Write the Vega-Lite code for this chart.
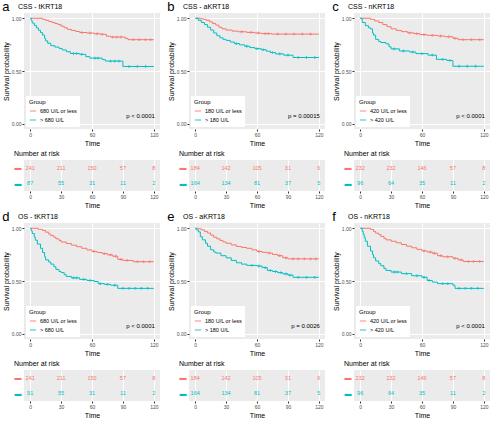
{
"$schema": "https://vega.github.io/schema/vega-lite/v6.json",
"padding": {"left": 2, "top": 1, "right": 2, "bottom": 0},
"background": "white",
"config": {
 "font": "Liberation Sans",
 "view": {"fill": "#EBEBEB", "stroke": null},
 "axis": {"gridColor": "white", "gridWidth": 1, "domain": false, "tickColor": "#333333", "tickSize": 2, "labelFontSize": 5, "labelColor": "#4D4D4D", "labelPadding": 1, "titleFontSize": 7, "titleFontWeight": "normal", "titleColor": "black", "titlePadding": 2},
 "title": {"anchor": "start", "frame": "bounds", "fontSize": 7, "fontWeight": "normal", "color": "black", "offset": 3},
 "legend": {"orient": "bottom-left", "offset": 2, "fillColor": "white", "padding": 3, "titleFontSize": 6, "titleFontWeight": "normal", "labelFontSize": 5.5, "symbolType": "stroke", "symbolSize": 40, "symbolStrokeWidth": 1.2, "rowPadding": 1, "titlePadding": 2, "labelOffset": 3}
},
"datasets": {
 "km": [
  {"p":"a","g":"lo","t":0,"s":1},{"p":"a","g":"lo","t":12,"s":0.99},{"p":"a","g":"lo","t":15,"s":0.98},{"p":"a","g":"lo","t":18,"s":0.97},{"p":"a","g":"lo","t":21,"s":0.96},{"p":"a","g":"lo","t":24,"s":0.95},{"p":"a","g":"lo","t":27,"s":0.94},{"p":"a","g":"lo","t":30,"s":0.925},{"p":"a","g":"lo","t":33,"s":0.91},{"p":"a","g":"lo","t":36,"s":0.895},{"p":"a","g":"lo","t":40,"s":0.885},{"p":"a","g":"lo","t":44,"s":0.875},{"p":"a","g":"lo","t":48,"s":0.865},{"p":"a","g":"lo","t":55,"s":0.86},{"p":"a","g":"lo","t":62,"s":0.853},{"p":"a","g":"lo","t":68,"s":0.848},{"p":"a","g":"lo","t":74,"s":0.83},{"p":"a","g":"lo","t":78,"s":0.822},{"p":"a","g":"lo","t":92,"s":0.81},{"p":"a","g":"lo","t":95,"s":0.797},{"p":"a","g":"lo","t":120,"s":0.797},
  {"p":"a","g":"lo","t":50,"s":0.865,"c":1},{"p":"a","g":"lo","t":58,"s":0.86,"c":1},{"p":"a","g":"lo","t":65,"s":0.853,"c":1},{"p":"a","g":"lo","t":70,"s":0.848,"c":1},{"p":"a","g":"lo","t":80,"s":0.822,"c":1},{"p":"a","g":"lo","t":84,"s":0.822,"c":1},{"p":"a","g":"lo","t":88,"s":0.822,"c":1},{"p":"a","g":"lo","t":100,"s":0.797,"c":1},{"p":"a","g":"lo","t":106,"s":0.797,"c":1},{"p":"a","g":"lo","t":112,"s":0.797,"c":1},{"p":"a","g":"lo","t":117,"s":0.797,"c":1},
  {"p":"a","g":"hi","t":0,"s":1},{"p":"a","g":"hi","t":1,"s":0.977},{"p":"a","g":"hi","t":2,"s":0.955},{"p":"a","g":"hi","t":4,"s":0.932},{"p":"a","g":"hi","t":6,"s":0.909},{"p":"a","g":"hi","t":8,"s":0.886},{"p":"a","g":"hi","t":10,"s":0.864},{"p":"a","g":"hi","t":12,"s":0.841},{"p":"a","g":"hi","t":14,"s":0.81},{"p":"a","g":"hi","t":15,"s":0.786},{"p":"a","g":"hi","t":17,"s":0.763},{"p":"a","g":"hi","t":20,"s":0.74},{"p":"a","g":"hi","t":24,"s":0.727},{"p":"a","g":"hi","t":28,"s":0.714},{"p":"a","g":"hi","t":31,"s":0.7},{"p":"a","g":"hi","t":35,"s":0.683},{"p":"a","g":"hi","t":39,"s":0.666},{"p":"a","g":"hi","t":48,"s":0.658},{"p":"a","g":"hi","t":54,"s":0.636},{"p":"a","g":"hi","t":58,"s":0.622},{"p":"a","g":"hi","t":70,"s":0.608},{"p":"a","g":"hi","t":73,"s":0.594},{"p":"a","g":"hi","t":90,"s":0.543},{"p":"a","g":"hi","t":120,"s":0.543},
  {"p":"a","g":"hi","t":42,"s":0.666,"c":1},{"p":"a","g":"hi","t":45,"s":0.666,"c":1},{"p":"a","g":"hi","t":50,"s":0.658,"c":1},{"p":"a","g":"hi","t":63,"s":0.622,"c":1},{"p":"a","g":"hi","t":66,"s":0.622,"c":1},{"p":"a","g":"hi","t":78,"s":0.594,"c":1},{"p":"a","g":"hi","t":82,"s":0.594,"c":1},{"p":"a","g":"hi","t":86,"s":0.594,"c":1},{"p":"a","g":"hi","t":96,"s":0.543,"c":1},{"p":"a","g":"hi","t":104,"s":0.543,"c":1},{"p":"a","g":"hi","t":112,"s":0.543,"c":1},
  {"p":"b","g":"lo","t":0,"s":1},{"p":"b","g":"lo","t":5,"s":0.995},{"p":"b","g":"lo","t":8,"s":0.99},{"p":"b","g":"lo","t":11,"s":0.98},{"p":"b","g":"lo","t":14,"s":0.965},{"p":"b","g":"lo","t":17,"s":0.95},{"p":"b","g":"lo","t":20,"s":0.935},{"p":"b","g":"lo","t":23,"s":0.915},{"p":"b","g":"lo","t":26,"s":0.9},{"p":"b","g":"lo","t":30,"s":0.888},{"p":"b","g":"lo","t":36,"s":0.878},{"p":"b","g":"lo","t":42,"s":0.872},{"p":"b","g":"lo","t":50,"s":0.866},{"p":"b","g":"lo","t":58,"s":0.86},{"p":"b","g":"lo","t":64,"s":0.855},{"p":"b","g":"lo","t":74,"s":0.85},{"p":"b","g":"lo","t":120,"s":0.85},
  {"p":"b","g":"lo","t":45,"s":0.872,"c":1},{"p":"b","g":"lo","t":54,"s":0.866,"c":1},{"p":"b","g":"lo","t":61,"s":0.86,"c":1},{"p":"b","g":"lo","t":68,"s":0.855,"c":1},{"p":"b","g":"lo","t":71,"s":0.855,"c":1},{"p":"b","g":"lo","t":80,"s":0.85,"c":1},{"p":"b","g":"lo","t":88,"s":0.85,"c":1},{"p":"b","g":"lo","t":96,"s":0.85,"c":1},{"p":"b","g":"lo","t":104,"s":0.85,"c":1},{"p":"b","g":"lo","t":112,"s":0.85,"c":1},
  {"p":"b","g":"hi","t":0,"s":1},{"p":"b","g":"hi","t":3,"s":0.98},{"p":"b","g":"hi","t":6,"s":0.96},{"p":"b","g":"hi","t":9,"s":0.94},{"p":"b","g":"hi","t":12,"s":0.915},{"p":"b","g":"hi","t":15,"s":0.888},{"p":"b","g":"hi","t":18,"s":0.86},{"p":"b","g":"hi","t":21,"s":0.835},{"p":"b","g":"hi","t":24,"s":0.815},{"p":"b","g":"hi","t":27,"s":0.8},{"p":"b","g":"hi","t":30,"s":0.79},{"p":"b","g":"hi","t":34,"s":0.775},{"p":"b","g":"hi","t":38,"s":0.76},{"p":"b","g":"hi","t":43,"s":0.748},{"p":"b","g":"hi","t":48,"s":0.735},{"p":"b","g":"hi","t":53,"s":0.722},{"p":"b","g":"hi","t":58,"s":0.712},{"p":"b","g":"hi","t":64,"s":0.702},{"p":"b","g":"hi","t":69,"s":0.688},{"p":"b","g":"hi","t":73,"s":0.675},{"p":"b","g":"hi","t":78,"s":0.662},{"p":"b","g":"hi","t":86,"s":0.65},{"p":"b","g":"hi","t":95,"s":0.628},{"p":"b","g":"hi","t":120,"s":0.628},
  {"p":"b","g":"hi","t":40,"s":0.76,"c":1},{"p":"b","g":"hi","t":50,"s":0.735,"c":1},{"p":"b","g":"hi","t":60,"s":0.712,"c":1},{"p":"b","g":"hi","t":66,"s":0.702,"c":1},{"p":"b","g":"hi","t":75,"s":0.675,"c":1},{"p":"b","g":"hi","t":82,"s":0.662,"c":1},{"p":"b","g":"hi","t":90,"s":0.65,"c":1},{"p":"b","g":"hi","t":100,"s":0.628,"c":1},{"p":"b","g":"hi","t":108,"s":0.628,"c":1},{"p":"b","g":"hi","t":116,"s":0.628,"c":1},
  {"p":"c","g":"lo","t":0,"s":1},{"p":"c","g":"lo","t":10,"s":0.99},{"p":"c","g":"lo","t":14,"s":0.975},{"p":"c","g":"lo","t":18,"s":0.96},{"p":"c","g":"lo","t":22,"s":0.94},{"p":"c","g":"lo","t":26,"s":0.92},{"p":"c","g":"lo","t":30,"s":0.9},{"p":"c","g":"lo","t":35,"s":0.885},{"p":"c","g":"lo","t":40,"s":0.873},{"p":"c","g":"lo","t":46,"s":0.862},{"p":"c","g":"lo","t":52,"s":0.855},{"p":"c","g":"lo","t":58,"s":0.845},{"p":"c","g":"lo","t":65,"s":0.838},{"p":"c","g":"lo","t":75,"s":0.832},{"p":"c","g":"lo","t":82,"s":0.825},{"p":"c","g":"lo","t":90,"s":0.81},{"p":"c","g":"lo","t":95,"s":0.797},{"p":"c","g":"lo","t":120,"s":0.797},
  {"p":"c","g":"lo","t":48,"s":0.862,"c":1},{"p":"c","g":"lo","t":55,"s":0.855,"c":1},{"p":"c","g":"lo","t":62,"s":0.845,"c":1},{"p":"c","g":"lo","t":70,"s":0.838,"c":1},{"p":"c","g":"lo","t":78,"s":0.832,"c":1},{"p":"c","g":"lo","t":86,"s":0.825,"c":1},{"p":"c","g":"lo","t":92,"s":0.81,"c":1},{"p":"c","g":"lo","t":100,"s":0.797,"c":1},{"p":"c","g":"lo","t":108,"s":0.797,"c":1},{"p":"c","g":"lo","t":116,"s":0.797,"c":1},
  {"p":"c","g":"hi","t":0,"s":1},{"p":"c","g":"hi","t":2,"s":0.96},{"p":"c","g":"hi","t":5,"s":0.93},{"p":"c","g":"hi","t":8,"s":0.91},{"p":"c","g":"hi","t":10,"s":0.9},{"p":"c","g":"hi","t":12,"s":0.86},{"p":"c","g":"hi","t":13,"s":0.84},{"p":"c","g":"hi","t":15,"s":0.8},{"p":"c","g":"hi","t":18,"s":0.78},{"p":"c","g":"hi","t":20,"s":0.77},{"p":"c","g":"hi","t":25,"s":0.757},{"p":"c","g":"hi","t":28,"s":0.73},{"p":"c","g":"hi","t":30,"s":0.71},{"p":"c","g":"hi","t":38,"s":0.69},{"p":"c","g":"hi","t":48,"s":0.68},{"p":"c","g":"hi","t":54,"s":0.665},{"p":"c","g":"hi","t":66,"s":0.65},{"p":"c","g":"hi","t":74,"s":0.61},{"p":"c","g":"hi","t":84,"s":0.6},{"p":"c","g":"hi","t":90,"s":0.545},{"p":"c","g":"hi","t":120,"s":0.545},
  {"p":"c","g":"hi","t":33,"s":0.71,"c":1},{"p":"c","g":"hi","t":42,"s":0.69,"c":1},{"p":"c","g":"hi","t":51,"s":0.68,"c":1},{"p":"c","g":"hi","t":60,"s":0.665,"c":1},{"p":"c","g":"hi","t":70,"s":0.65,"c":1},{"p":"c","g":"hi","t":80,"s":0.61,"c":1},{"p":"c","g":"hi","t":87,"s":0.6,"c":1},{"p":"c","g":"hi","t":96,"s":0.545,"c":1},{"p":"c","g":"hi","t":104,"s":0.545,"c":1},{"p":"c","g":"hi","t":112,"s":0.545,"c":1},
  {"p":"d","g":"lo","t":0,"s":1},{"p":"d","g":"lo","t":8,"s":0.99},{"p":"d","g":"lo","t":12,"s":0.98},{"p":"d","g":"lo","t":15,"s":0.963},{"p":"d","g":"lo","t":18,"s":0.945},{"p":"d","g":"lo","t":20,"s":0.93},{"p":"d","g":"lo","t":23,"s":0.915},{"p":"d","g":"lo","t":25,"s":0.9},{"p":"d","g":"lo","t":28,"s":0.885},{"p":"d","g":"lo","t":30,"s":0.87},{"p":"d","g":"lo","t":35,"s":0.855},{"p":"d","g":"lo","t":40,"s":0.84},{"p":"d","g":"lo","t":45,"s":0.825},{"p":"d","g":"lo","t":50,"s":0.81},{"p":"d","g":"lo","t":55,"s":0.795},{"p":"d","g":"lo","t":60,"s":0.78},{"p":"d","g":"lo","t":65,"s":0.77},{"p":"d","g":"lo","t":70,"s":0.76},{"p":"d","g":"lo","t":75,"s":0.748},{"p":"d","g":"lo","t":80,"s":0.735},{"p":"d","g":"lo","t":85,"s":0.705},{"p":"d","g":"lo","t":90,"s":0.695},{"p":"d","g":"lo","t":100,"s":0.683},{"p":"d","g":"lo","t":120,"s":0.683},
  {"p":"d","g":"lo","t":62,"s":0.78,"c":1},{"p":"d","g":"lo","t":72,"s":0.76,"c":1},{"p":"d","g":"lo","t":78,"s":0.748,"c":1},{"p":"d","g":"lo","t":83,"s":0.735,"c":1},{"p":"d","g":"lo","t":88,"s":0.705,"c":1},{"p":"d","g":"lo","t":94,"s":0.695,"c":1},{"p":"d","g":"lo","t":104,"s":0.683,"c":1},{"p":"d","g":"lo","t":110,"s":0.683,"c":1},{"p":"d","g":"lo","t":116,"s":0.683,"c":1},
  {"p":"d","g":"hi","t":0,"s":1},{"p":"d","g":"hi","t":1,"s":0.975},{"p":"d","g":"hi","t":2,"s":0.95},{"p":"d","g":"hi","t":4,"s":0.915},{"p":"d","g":"hi","t":5,"s":0.887},{"p":"d","g":"hi","t":7,"s":0.85},{"p":"d","g":"hi","t":10,"s":0.81},{"p":"d","g":"hi","t":12,"s":0.77},{"p":"d","g":"hi","t":14,"s":0.73},{"p":"d","g":"hi","t":15,"s":0.7},{"p":"d","g":"hi","t":18,"s":0.68},{"p":"d","g":"hi","t":20,"s":0.66},{"p":"d","g":"hi","t":23,"s":0.635},{"p":"d","g":"hi","t":25,"s":0.61},{"p":"d","g":"hi","t":28,"s":0.59},{"p":"d","g":"hi","t":30,"s":0.58},{"p":"d","g":"hi","t":33,"s":0.56},{"p":"d","g":"hi","t":35,"s":0.543},{"p":"d","g":"hi","t":40,"s":0.53},{"p":"d","g":"hi","t":48,"s":0.515},{"p":"d","g":"hi","t":55,"s":0.505},{"p":"d","g":"hi","t":62,"s":0.495},{"p":"d","g":"hi","t":66,"s":0.475},{"p":"d","g":"hi","t":72,"s":0.468},{"p":"d","g":"hi","t":78,"s":0.46},{"p":"d","g":"hi","t":85,"s":0.43},{"p":"d","g":"hi","t":120,"s":0.43},
  {"p":"d","g":"hi","t":42,"s":0.53,"c":1},{"p":"d","g":"hi","t":45,"s":0.53,"c":1},{"p":"d","g":"hi","t":52,"s":0.515,"c":1},{"p":"d","g":"hi","t":58,"s":0.505,"c":1},{"p":"d","g":"hi","t":68,"s":0.475,"c":1},{"p":"d","g":"hi","t":75,"s":0.468,"c":1},{"p":"d","g":"hi","t":82,"s":0.46,"c":1},{"p":"d","g":"hi","t":90,"s":0.43,"c":1},{"p":"d","g":"hi","t":96,"s":0.43,"c":1},{"p":"d","g":"hi","t":102,"s":0.43,"c":1},{"p":"d","g":"hi","t":108,"s":0.43,"c":1},{"p":"d","g":"hi","t":114,"s":0.43,"c":1},
  {"p":"e","g":"lo","t":0,"s":1},{"p":"e","g":"lo","t":3,"s":0.995},{"p":"e","g":"lo","t":6,"s":0.985},{"p":"e","g":"lo","t":9,"s":0.97},{"p":"e","g":"lo","t":12,"s":0.955},{"p":"e","g":"lo","t":15,"s":0.935},{"p":"e","g":"lo","t":18,"s":0.915},{"p":"e","g":"lo","t":21,"s":0.9},{"p":"e","g":"lo","t":24,"s":0.885},{"p":"e","g":"lo","t":27,"s":0.87},{"p":"e","g":"lo","t":30,"s":0.858},{"p":"e","g":"lo","t":35,"s":0.842},{"p":"e","g":"lo","t":40,"s":0.827},{"p":"e","g":"lo","t":45,"s":0.818},{"p":"e","g":"lo","t":50,"s":0.81},{"p":"e","g":"lo","t":55,"s":0.795},{"p":"e","g":"lo","t":60,"s":0.78},{"p":"e","g":"lo","t":65,"s":0.772},{"p":"e","g":"lo","t":70,"s":0.765},{"p":"e","g":"lo","t":75,"s":0.752},{"p":"e","g":"lo","t":80,"s":0.74},{"p":"e","g":"lo","t":85,"s":0.72},{"p":"e","g":"lo","t":90,"s":0.71},{"p":"e","g":"lo","t":120,"s":0.71},
  {"p":"e","g":"lo","t":62,"s":0.78,"c":1},{"p":"e","g":"lo","t":72,"s":0.765,"c":1},{"p":"e","g":"lo","t":82,"s":0.74,"c":1},{"p":"e","g":"lo","t":88,"s":0.72,"c":1},{"p":"e","g":"lo","t":95,"s":0.71,"c":1},{"p":"e","g":"lo","t":100,"s":0.71,"c":1},{"p":"e","g":"lo","t":106,"s":0.71,"c":1},{"p":"e","g":"lo","t":112,"s":0.71,"c":1},{"p":"e","g":"lo","t":117,"s":0.71,"c":1},
  {"p":"e","g":"hi","t":0,"s":1},{"p":"e","g":"hi","t":1,"s":0.985},{"p":"e","g":"hi","t":3,"s":0.966},{"p":"e","g":"hi","t":5,"s":0.92},{"p":"e","g":"hi","t":7,"s":0.89},{"p":"e","g":"hi","t":10,"s":0.858},{"p":"e","g":"hi","t":12,"s":0.83},{"p":"e","g":"hi","t":15,"s":0.796},{"p":"e","g":"hi","t":18,"s":0.775},{"p":"e","g":"hi","t":20,"s":0.765},{"p":"e","g":"hi","t":25,"s":0.74},{"p":"e","g":"hi","t":30,"s":0.72},{"p":"e","g":"hi","t":35,"s":0.695},{"p":"e","g":"hi","t":40,"s":0.673},{"p":"e","g":"hi","t":45,"s":0.66},{"p":"e","g":"hi","t":50,"s":0.648},{"p":"e","g":"hi","t":60,"s":0.642},{"p":"e","g":"hi","t":65,"s":0.627},{"p":"e","g":"hi","t":70,"s":0.6},{"p":"e","g":"hi","t":75,"s":0.59},{"p":"e","g":"hi","t":80,"s":0.58},{"p":"e","g":"hi","t":85,"s":0.568},{"p":"e","g":"hi","t":90,"s":0.556},{"p":"e","g":"hi","t":95,"s":0.535},{"p":"e","g":"hi","t":120,"s":0.535},
  {"p":"e","g":"hi","t":55,"s":0.648,"c":1},{"p":"e","g":"hi","t":62,"s":0.642,"c":1},{"p":"e","g":"hi","t":68,"s":0.627,"c":1},{"p":"e","g":"hi","t":73,"s":0.6,"c":1},{"p":"e","g":"hi","t":78,"s":0.59,"c":1},{"p":"e","g":"hi","t":83,"s":0.58,"c":1},{"p":"e","g":"hi","t":88,"s":0.568,"c":1},{"p":"e","g":"hi","t":92,"s":0.556,"c":1},{"p":"e","g":"hi","t":100,"s":0.535,"c":1},{"p":"e","g":"hi","t":108,"s":0.535,"c":1},{"p":"e","g":"hi","t":116,"s":0.535,"c":1},
  {"p":"f","g":"lo","t":0,"s":1},{"p":"f","g":"lo","t":10,"s":0.99},{"p":"f","g":"lo","t":13,"s":0.97},{"p":"f","g":"lo","t":15,"s":0.954},{"p":"f","g":"lo","t":18,"s":0.94},{"p":"f","g":"lo","t":20,"s":0.923},{"p":"f","g":"lo","t":23,"s":0.905},{"p":"f","g":"lo","t":25,"s":0.89},{"p":"f","g":"lo","t":30,"s":0.877},{"p":"f","g":"lo","t":35,"s":0.862},{"p":"f","g":"lo","t":40,"s":0.846},{"p":"f","g":"lo","t":45,"s":0.83},{"p":"f","g":"lo","t":50,"s":0.815},{"p":"f","g":"lo","t":55,"s":0.8},{"p":"f","g":"lo","t":60,"s":0.785},{"p":"f","g":"lo","t":65,"s":0.775},{"p":"f","g":"lo","t":70,"s":0.763},{"p":"f","g":"lo","t":75,"s":0.74},{"p":"f","g":"lo","t":80,"s":0.73},{"p":"f","g":"lo","t":90,"s":0.715},{"p":"f","g":"lo","t":95,"s":0.7},{"p":"f","g":"lo","t":100,"s":0.685},{"p":"f","g":"lo","t":120,"s":0.685},
  {"p":"f","g":"lo","t":62,"s":0.785,"c":1},{"p":"f","g":"lo","t":68,"s":0.775,"c":1},{"p":"f","g":"lo","t":72,"s":0.763,"c":1},{"p":"f","g":"lo","t":78,"s":0.74,"c":1},{"p":"f","g":"lo","t":85,"s":0.73,"c":1},{"p":"f","g":"lo","t":92,"s":0.715,"c":1},{"p":"f","g":"lo","t":98,"s":0.7,"c":1},{"p":"f","g":"lo","t":105,"s":0.685,"c":1},{"p":"f","g":"lo","t":110,"s":0.685,"c":1},{"p":"f","g":"lo","t":116,"s":0.685,"c":1},
  {"p":"f","g":"hi","t":0,"s":1},{"p":"f","g":"hi","t":2,"s":0.97},{"p":"f","g":"hi","t":3,"s":0.94},{"p":"f","g":"hi","t":4,"s":0.91},{"p":"f","g":"hi","t":5,"s":0.877},{"p":"f","g":"hi","t":7,"s":0.83},{"p":"f","g":"hi","t":10,"s":0.785},{"p":"f","g":"hi","t":12,"s":0.75},{"p":"f","g":"hi","t":13,"s":0.72},{"p":"f","g":"hi","t":15,"s":0.69},{"p":"f","g":"hi","t":18,"s":0.665},{"p":"f","g":"hi","t":20,"s":0.645},{"p":"f","g":"hi","t":23,"s":0.62},{"p":"f","g":"hi","t":25,"s":0.6},{"p":"f","g":"hi","t":30,"s":0.585},{"p":"f","g":"hi","t":40,"s":0.57},{"p":"f","g":"hi","t":50,"s":0.55},{"p":"f","g":"hi","t":60,"s":0.535},{"p":"f","g":"hi","t":65,"s":0.505},{"p":"f","g":"hi","t":70,"s":0.49},{"p":"f","g":"hi","t":75,"s":0.475},{"p":"f","g":"hi","t":90,"s":0.46},{"p":"f","g":"hi","t":92,"s":0.43},{"p":"f","g":"hi","t":120,"s":0.43},
  {"p":"f","g":"hi","t":33,"s":0.585,"c":1},{"p":"f","g":"hi","t":36,"s":0.585,"c":1},{"p":"f","g":"hi","t":45,"s":0.57,"c":1},{"p":"f","g":"hi","t":55,"s":0.55,"c":1},{"p":"f","g":"hi","t":62,"s":0.535,"c":1},{"p":"f","g":"hi","t":67,"s":0.505,"c":1},{"p":"f","g":"hi","t":80,"s":0.475,"c":1},{"p":"f","g":"hi","t":85,"s":0.475,"c":1},{"p":"f","g":"hi","t":96,"s":0.43,"c":1},{"p":"f","g":"hi","t":102,"s":0.43,"c":1},{"p":"f","g":"hi","t":108,"s":0.43,"c":1},{"p":"f","g":"hi","t":114,"s":0.43,"c":1}
 ],
 "risk": [
  {"p":"a","g":"lo","t":0,"n":241},{"p":"a","g":"lo","t":30,"n":211},{"p":"a","g":"lo","t":60,"n":150},{"p":"a","g":"lo","t":90,"n":57},{"p":"a","g":"lo","t":120,"n":8},
  {"p":"a","g":"hi","t":0,"n":87},{"p":"a","g":"hi","t":30,"n":55},{"p":"a","g":"hi","t":60,"n":31},{"p":"a","g":"hi","t":90,"n":11},{"p":"a","g":"hi","t":120,"n":2},
  {"p":"b","g":"lo","t":0,"n":184},{"p":"b","g":"lo","t":30,"n":142},{"p":"b","g":"lo","t":60,"n":105},{"p":"b","g":"lo","t":90,"n":31},{"p":"b","g":"lo","t":120,"n":6},
  {"p":"b","g":"hi","t":0,"n":164},{"p":"b","g":"hi","t":30,"n":134},{"p":"b","g":"hi","t":60,"n":81},{"p":"b","g":"hi","t":90,"n":37},{"p":"b","g":"hi","t":120,"n":5},
  {"p":"c","g":"lo","t":0,"n":232},{"p":"c","g":"lo","t":30,"n":232},{"p":"c","g":"lo","t":60,"n":146},{"p":"c","g":"lo","t":90,"n":57},{"p":"c","g":"lo","t":120,"n":8},
  {"p":"c","g":"hi","t":0,"n":96},{"p":"c","g":"hi","t":30,"n":64},{"p":"c","g":"hi","t":60,"n":35},{"p":"c","g":"hi","t":90,"n":11},{"p":"c","g":"hi","t":120,"n":2},
  {"p":"d","g":"lo","t":0,"n":241},{"p":"d","g":"lo","t":30,"n":211},{"p":"d","g":"lo","t":60,"n":150},{"p":"d","g":"lo","t":90,"n":57},{"p":"d","g":"lo","t":120,"n":8},
  {"p":"d","g":"hi","t":0,"n":91},{"p":"d","g":"hi","t":30,"n":55},{"p":"d","g":"hi","t":60,"n":31},{"p":"d","g":"hi","t":90,"n":11},{"p":"d","g":"hi","t":120,"n":2},
  {"p":"e","g":"lo","t":0,"n":184},{"p":"e","g":"lo","t":30,"n":142},{"p":"e","g":"lo","t":60,"n":105},{"p":"e","g":"lo","t":90,"n":31},{"p":"e","g":"lo","t":120,"n":6},
  {"p":"e","g":"hi","t":0,"n":164},{"p":"e","g":"hi","t":30,"n":134},{"p":"e","g":"hi","t":60,"n":81},{"p":"e","g":"hi","t":90,"n":37},{"p":"e","g":"hi","t":120,"n":5},
  {"p":"f","g":"lo","t":0,"n":232},{"p":"f","g":"lo","t":30,"n":232},{"p":"f","g":"lo","t":60,"n":146},{"p":"f","g":"lo","t":90,"n":57},{"p":"f","g":"lo","t":120,"n":8},
  {"p":"f","g":"hi","t":0,"n":96},{"p":"f","g":"hi","t":30,"n":64},{"p":"f","g":"hi","t":60,"n":35},{"p":"f","g":"hi","t":90,"n":11},{"p":"f","g":"hi","t":120,"n":2}
 ],
 "pv": [
  {"p":"a","txt":"p < 0.0001"},{"p":"b","txt":"p = 0.00015"},{"p":"c","txt":"p < 0.0001"},
  {"p":"d","txt":"p < 0.0001"},{"p":"e","txt":"p = 0.0026"},{"p":"f","txt":"p < 0.0001"}
 ]
},
"spacing": 3,
"resolve": {"scale": {"color": "independent"}, "legend": {"color": "independent"}},
"vconcat": [
 {"hconcat": [
  {"title": {"text": "a", "fontSize": 13, "offset": -11}, "spacing": 4,
   "resolve": {"scale": {"color": "independent"}, "legend": {"color": "independent"}},
   "vconcat": [
    {"width": 136, "height": 116, "title": {"text": "CSS - tKRT18", "frame": "group", "dx": -6},
     "layer": [
     {"data": {"name": "km"}, "transform": [{"filter": "datum.p == 'a'"}],
      "mark": {"type": "line", "interpolate": "step-after", "strokeWidth": 1},
      "encoding": {
       "x": {"field": "t", "type": "quantitative", "scale": {"domain": [-6, 126], "nice": false, "zero": false}, "axis": {"values": [0,30,60,90,120], "title": "Time"}},
       "y": {"field": "s", "type": "quantitative", "scale": {"domain": [-0.05, 1.05], "nice": false, "zero": false}, "axis": {"values": [0,0.25,0.5,0.75,1], "format": ".2f", "title": "Survival probability"}},
       "color": {"field": "g", "type": "nominal", "scale": {"domain": ["lo","hi"], "range": ["#F8766D","#00BFC4"]}, "legend": {"title": "Group", "labelExpr": "datum.value == 'lo' ? '680 U/L or less' : '> 680 U/L'"}}}},
     {"data": {"name": "km"}, "transform": [{"filter": "datum.p == 'a' && datum.c == 1"}],
      "mark": {"type": "point", "shape": "cross", "filled": true, "size": 8},
      "encoding": {"x": {"field": "t", "type": "quantitative"}, "y": {"field": "s", "type": "quantitative"}, "color": {"field": "g", "type": "nominal"}}},
     {"data": {"name": "pv"}, "transform": [{"filter": "datum.p == 'a'"}],
      "mark": {"type": "text", "align": "right", "fontSize": 6},
      "encoding": {"x": {"datum": 121}, "y": {"datum": 0.07}, "text": {"field": "txt"}}}
    ]},
    {"width": 136, "height": 31, "title": {"text": "Number at risk"},
     "data": {"name": "risk"}, "transform": [{"filter": "datum.p == 'a'"}],
     "mark": {"type": "text", "fontSize": 5.5},
     "encoding": {
      "x": {"field": "t", "type": "quantitative", "scale": {"domain": [-6, 126], "nice": false, "zero": false}, "axis": {"values": [0,30,60,90,120], "title": "Time"}},
      "y": {"field": "g", "type": "nominal", "scale": {"domain": ["lo","hi"]}, "axis": {"title": null, "labelExpr": "'▬'", "ticks": false, "labelFontSize": 7, "labelPadding": 3, "labelColor": {"condition": {"test": "datum.value == 'lo'", "value": "#F8766D"}, "value": "#00BFC4"}}},
      "color": {"field": "g", "type": "nominal", "scale": {"domain": ["lo","hi"], "range": ["#F8766D","#00BFC4"]}, "legend": null},
      "text": {"field": "n", "type": "quantitative"}}}
   ]},
  {"title": {"text": "b", "fontSize": 13, "offset": -11}, "spacing": 4,
   "resolve": {"scale": {"color": "independent"}, "legend": {"color": "independent"}},
   "vconcat": [
    {"width": 136, "height": 116, "title": {"text": "CSS - aKRT18", "frame": "group", "dx": -6},
     "layer": [
     {"data": {"name": "km"}, "transform": [{"filter": "datum.p == 'b'"}],
      "mark": {"type": "line", "interpolate": "step-after", "strokeWidth": 1},
      "encoding": {
       "x": {"field": "t", "type": "quantitative", "scale": {"domain": [-6, 126], "nice": false, "zero": false}, "axis": {"values": [0,30,60,90,120], "title": "Time"}},
       "y": {"field": "s", "type": "quantitative", "scale": {"domain": [-0.05, 1.05], "nice": false, "zero": false}, "axis": {"values": [0,0.25,0.5,0.75,1], "format": ".2f", "title": "Survival probability"}},
       "color": {"field": "g", "type": "nominal", "scale": {"domain": ["lo","hi"], "range": ["#F8766D","#00BFC4"]}, "legend": {"title": "Group", "labelExpr": "datum.value == 'lo' ? '180 U/L or less' : '> 180 U/L'"}}}},
     {"data": {"name": "km"}, "transform": [{"filter": "datum.p == 'b' && datum.c == 1"}],
      "mark": {"type": "point", "shape": "cross", "filled": true, "size": 8},
      "encoding": {"x": {"field": "t", "type": "quantitative"}, "y": {"field": "s", "type": "quantitative"}, "color": {"field": "g", "type": "nominal"}}},
     {"data": {"name": "pv"}, "transform": [{"filter": "datum.p == 'b'"}],
      "mark": {"type": "text", "align": "right", "fontSize": 6},
      "encoding": {"x": {"datum": 121}, "y": {"datum": 0.07}, "text": {"field": "txt"}}}
    ]},
    {"width": 136, "height": 31, "title": {"text": "Number at risk"},
     "data": {"name": "risk"}, "transform": [{"filter": "datum.p == 'b'"}],
     "mark": {"type": "text", "fontSize": 5.5},
     "encoding": {
      "x": {"field": "t", "type": "quantitative", "scale": {"domain": [-6, 126], "nice": false, "zero": false}, "axis": {"values": [0,30,60,90,120], "title": "Time"}},
      "y": {"field": "g", "type": "nominal", "scale": {"domain": ["lo","hi"]}, "axis": {"title": null, "labelExpr": "'▬'", "ticks": false, "labelFontSize": 7, "labelPadding": 3, "labelColor": {"condition": {"test": "datum.value == 'lo'", "value": "#F8766D"}, "value": "#00BFC4"}}},
      "color": {"field": "g", "type": "nominal", "scale": {"domain": ["lo","hi"], "range": ["#F8766D","#00BFC4"]}, "legend": null},
      "text": {"field": "n", "type": "quantitative"}}}
   ]},
  {"title": {"text": "c", "fontSize": 13, "offset": -11}, "spacing": 4,
   "resolve": {"scale": {"color": "independent"}, "legend": {"color": "independent"}},
   "vconcat": [
    {"width": 136, "height": 116, "title": {"text": "CSS - nKRT18", "frame": "group", "dx": -6},
     "layer": [
     {"data": {"name": "km"}, "transform": [{"filter": "datum.p == 'c'"}],
      "mark": {"type": "line", "interpolate": "step-after", "strokeWidth": 1},
      "encoding": {
       "x": {"field": "t", "type": "quantitative", "scale": {"domain": [-6, 126], "nice": false, "zero": false}, "axis": {"values": [0,30,60,90,120], "title": "Time"}},
       "y": {"field": "s", "type": "quantitative", "scale": {"domain": [-0.05, 1.05], "nice": false, "zero": false}, "axis": {"values": [0,0.25,0.5,0.75,1], "format": ".2f", "title": "Survival probability"}},
       "color": {"field": "g", "type": "nominal", "scale": {"domain": ["lo","hi"], "range": ["#F8766D","#00BFC4"]}, "legend": {"title": "Group", "labelExpr": "datum.value == 'lo' ? '420 U/L or less' : '> 420 U/L'"}}}},
     {"data": {"name": "km"}, "transform": [{"filter": "datum.p == 'c' && datum.c == 1"}],
      "mark": {"type": "point", "shape": "cross", "filled": true, "size": 8},
      "encoding": {"x": {"field": "t", "type": "quantitative"}, "y": {"field": "s", "type": "quantitative"}, "color": {"field": "g", "type": "nominal"}}},
     {"data": {"name": "pv"}, "transform": [{"filter": "datum.p == 'c'"}],
      "mark": {"type": "text", "align": "right", "fontSize": 6},
      "encoding": {"x": {"datum": 121}, "y": {"datum": 0.07}, "text": {"field": "txt"}}}
    ]},
    {"width": 136, "height": 31, "title": {"text": "Number at risk"},
     "data": {"name": "risk"}, "transform": [{"filter": "datum.p == 'c'"}],
     "mark": {"type": "text", "fontSize": 5.5},
     "encoding": {
      "x": {"field": "t", "type": "quantitative", "scale": {"domain": [-6, 126], "nice": false, "zero": false}, "axis": {"values": [0,30,60,90,120], "title": "Time"}},
      "y": {"field": "g", "type": "nominal", "scale": {"domain": ["lo","hi"]}, "axis": {"title": null, "labelExpr": "'▬'", "ticks": false, "labelFontSize": 7, "labelPadding": 3, "labelColor": {"condition": {"test": "datum.value == 'lo'", "value": "#F8766D"}, "value": "#00BFC4"}}},
      "color": {"field": "g", "type": "nominal", "scale": {"domain": ["lo","hi"], "range": ["#F8766D","#00BFC4"]}, "legend": null},
      "text": {"field": "n", "type": "quantitative"}}}
   ]}
 ], "spacing": 7, "resolve": {"scale": {"color": "independent"}, "legend": {"color": "independent"}}},
 {"hconcat": [
  {"title": {"text": "d", "fontSize": 13, "offset": -11}, "spacing": 4,
   "resolve": {"scale": {"color": "independent"}, "legend": {"color": "independent"}},
   "vconcat": [
    {"width": 136, "height": 116, "title": {"text": "OS - tKRT18", "frame": "group", "dx": -6},
     "layer": [
     {"data": {"name": "km"}, "transform": [{"filter": "datum.p == 'd'"}],
      "mark": {"type": "line", "interpolate": "step-after", "strokeWidth": 1},
      "encoding": {
       "x": {"field": "t", "type": "quantitative", "scale": {"domain": [-6, 126], "nice": false, "zero": false}, "axis": {"values": [0,30,60,90,120], "title": "Time"}},
       "y": {"field": "s", "type": "quantitative", "scale": {"domain": [-0.05, 1.05], "nice": false, "zero": false}, "axis": {"values": [0,0.25,0.5,0.75,1], "format": ".2f", "title": "Survival probability"}},
       "color": {"field": "g", "type": "nominal", "scale": {"domain": ["lo","hi"], "range": ["#F8766D","#00BFC4"]}, "legend": {"title": "Group", "labelExpr": "datum.value == 'lo' ? '680 U/L or less' : '> 680 U/L'"}}}},
     {"data": {"name": "km"}, "transform": [{"filter": "datum.p == 'd' && datum.c == 1"}],
      "mark": {"type": "point", "shape": "cross", "filled": true, "size": 8},
      "encoding": {"x": {"field": "t", "type": "quantitative"}, "y": {"field": "s", "type": "quantitative"}, "color": {"field": "g", "type": "nominal"}}},
     {"data": {"name": "pv"}, "transform": [{"filter": "datum.p == 'd'"}],
      "mark": {"type": "text", "align": "right", "fontSize": 6},
      "encoding": {"x": {"datum": 121}, "y": {"datum": 0.07}, "text": {"field": "txt"}}}
    ]},
    {"width": 136, "height": 31, "title": {"text": "Number at risk"},
     "data": {"name": "risk"}, "transform": [{"filter": "datum.p == 'd'"}],
     "mark": {"type": "text", "fontSize": 5.5},
     "encoding": {
      "x": {"field": "t", "type": "quantitative", "scale": {"domain": [-6, 126], "nice": false, "zero": false}, "axis": {"values": [0,30,60,90,120], "title": "Time"}},
      "y": {"field": "g", "type": "nominal", "scale": {"domain": ["lo","hi"]}, "axis": {"title": null, "labelExpr": "'▬'", "ticks": false, "labelFontSize": 7, "labelPadding": 3, "labelColor": {"condition": {"test": "datum.value == 'lo'", "value": "#F8766D"}, "value": "#00BFC4"}}},
      "color": {"field": "g", "type": "nominal", "scale": {"domain": ["lo","hi"], "range": ["#F8766D","#00BFC4"]}, "legend": null},
      "text": {"field": "n", "type": "quantitative"}}}
   ]},
  {"title": {"text": "e", "fontSize": 13, "offset": -11}, "spacing": 4,
   "resolve": {"scale": {"color": "independent"}, "legend": {"color": "independent"}},
   "vconcat": [
    {"width": 136, "height": 116, "title": {"text": "OS - aKRT18", "frame": "group", "dx": -6},
     "layer": [
     {"data": {"name": "km"}, "transform": [{"filter": "datum.p == 'e'"}],
      "mark": {"type": "line", "interpolate": "step-after", "strokeWidth": 1},
      "encoding": {
       "x": {"field": "t", "type": "quantitative", "scale": {"domain": [-6, 126], "nice": false, "zero": false}, "axis": {"values": [0,30,60,90,120], "title": "Time"}},
       "y": {"field": "s", "type": "quantitative", "scale": {"domain": [-0.05, 1.05], "nice": false, "zero": false}, "axis": {"values": [0,0.25,0.5,0.75,1], "format": ".2f", "title": "Survival probability"}},
       "color": {"field": "g", "type": "nominal", "scale": {"domain": ["lo","hi"], "range": ["#F8766D","#00BFC4"]}, "legend": {"title": "Group", "labelExpr": "datum.value == 'lo' ? '180 U/L or less' : '> 180 U/L'"}}}},
     {"data": {"name": "km"}, "transform": [{"filter": "datum.p == 'e' && datum.c == 1"}],
      "mark": {"type": "point", "shape": "cross", "filled": true, "size": 8},
      "encoding": {"x": {"field": "t", "type": "quantitative"}, "y": {"field": "s", "type": "quantitative"}, "color": {"field": "g", "type": "nominal"}}},
     {"data": {"name": "pv"}, "transform": [{"filter": "datum.p == 'e'"}],
      "mark": {"type": "text", "align": "right", "fontSize": 6},
      "encoding": {"x": {"datum": 121}, "y": {"datum": 0.07}, "text": {"field": "txt"}}}
    ]},
    {"width": 136, "height": 31, "title": {"text": "Number at risk"},
     "data": {"name": "risk"}, "transform": [{"filter": "datum.p == 'e'"}],
     "mark": {"type": "text", "fontSize": 5.5},
     "encoding": {
      "x": {"field": "t", "type": "quantitative", "scale": {"domain": [-6, 126], "nice": false, "zero": false}, "axis": {"values": [0,30,60,90,120], "title": "Time"}},
      "y": {"field": "g", "type": "nominal", "scale": {"domain": ["lo","hi"]}, "axis": {"title": null, "labelExpr": "'▬'", "ticks": false, "labelFontSize": 7, "labelPadding": 3, "labelColor": {"condition": {"test": "datum.value == 'lo'", "value": "#F8766D"}, "value": "#00BFC4"}}},
      "color": {"field": "g", "type": "nominal", "scale": {"domain": ["lo","hi"], "range": ["#F8766D","#00BFC4"]}, "legend": null},
      "text": {"field": "n", "type": "quantitative"}}}
   ]},
  {"title": {"text": "f", "fontSize": 13, "offset": -11}, "spacing": 4,
   "resolve": {"scale": {"color": "independent"}, "legend": {"color": "independent"}},
   "vconcat": [
    {"width": 136, "height": 116, "title": {"text": "OS - nKRT18", "frame": "group", "dx": -6},
     "layer": [
     {"data": {"name": "km"}, "transform": [{"filter": "datum.p == 'f'"}],
      "mark": {"type": "line", "interpolate": "step-after", "strokeWidth": 1},
      "encoding": {
       "x": {"field": "t", "type": "quantitative", "scale": {"domain": [-6, 126], "nice": false, "zero": false}, "axis": {"values": [0,30,60,90,120], "title": "Time"}},
       "y": {"field": "s", "type": "quantitative", "scale": {"domain": [-0.05, 1.05], "nice": false, "zero": false}, "axis": {"values": [0,0.25,0.5,0.75,1], "format": ".2f", "title": "Survival probability"}},
       "color": {"field": "g", "type": "nominal", "scale": {"domain": ["lo","hi"], "range": ["#F8766D","#00BFC4"]}, "legend": {"title": "Group", "labelExpr": "datum.value == 'lo' ? '420 U/L or less' : '> 420 U/L'"}}}},
     {"data": {"name": "km"}, "transform": [{"filter": "datum.p == 'f' && datum.c == 1"}],
      "mark": {"type": "point", "shape": "cross", "filled": true, "size": 8},
      "encoding": {"x": {"field": "t", "type": "quantitative"}, "y": {"field": "s", "type": "quantitative"}, "color": {"field": "g", "type": "nominal"}}},
     {"data": {"name": "pv"}, "transform": [{"filter": "datum.p == 'f'"}],
      "mark": {"type": "text", "align": "right", "fontSize": 6},
      "encoding": {"x": {"datum": 121}, "y": {"datum": 0.07}, "text": {"field": "txt"}}}
    ]},
    {"width": 136, "height": 31, "title": {"text": "Number at risk"},
     "data": {"name": "risk"}, "transform": [{"filter": "datum.p == 'f'"}],
     "mark": {"type": "text", "fontSize": 5.5},
     "encoding": {
      "x": {"field": "t", "type": "quantitative", "scale": {"domain": [-6, 126], "nice": false, "zero": false}, "axis": {"values": [0,30,60,90,120], "title": "Time"}},
      "y": {"field": "g", "type": "nominal", "scale": {"domain": ["lo","hi"]}, "axis": {"title": null, "labelExpr": "'▬'", "ticks": false, "labelFontSize": 7, "labelPadding": 3, "labelColor": {"condition": {"test": "datum.value == 'lo'", "value": "#F8766D"}, "value": "#00BFC4"}}},
      "color": {"field": "g", "type": "nominal", "scale": {"domain": ["lo","hi"], "range": ["#F8766D","#00BFC4"]}, "legend": null},
      "text": {"field": "n", "type": "quantitative"}}}
   ]}
 ], "spacing": 7, "resolve": {"scale": {"color": "independent"}, "legend": {"color": "independent"}}}
]
}
